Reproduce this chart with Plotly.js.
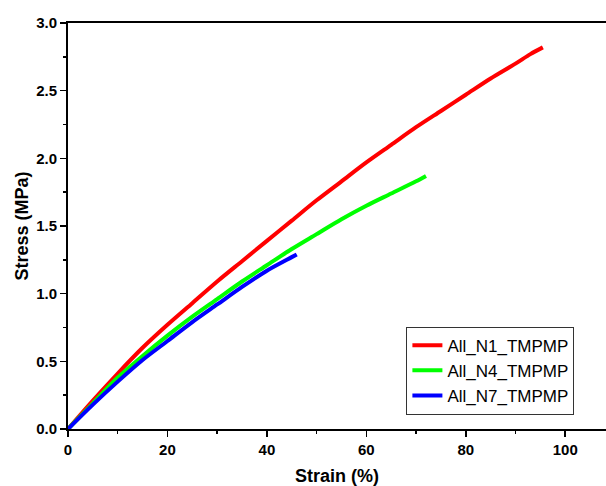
<!DOCTYPE html>
<html>
<head>
<meta charset="utf-8">
<script src="https://cdn.plot.ly/plotly-3.0.1.min.js"></script>
<style>html,body{margin:0;padding:0;background:#fff;}#chart{width:606px;height:486px;}</style>
</head>
<body>
<div id="chart"></div>
<script>
const seriesNames = ["All_N1_TMPMP", "All_N4_TMPMP", "All_N7_TMPMP"];
const seriesColors = ["#ff0000", "#00ff00", "#0000ff"];

const strainN1 = [0, 5, 10, 15, 20, 25, 30, 35, 40, 45, 50, 55, 60, 65, 70, 75, 80, 85, 90, 93, 95.5];
const stressN1 = [0, 0.21, 0.41, 0.60, 0.77, 0.93, 1.09, 1.24, 1.39, 1.54, 1.69, 1.83, 1.97, 2.10, 2.23, 2.35, 2.47, 2.59, 2.70, 2.77, 2.82];

const strainN4 = [0, 5, 10, 15, 20, 25, 30, 35, 40, 45, 50, 55, 60, 65, 70, 72];
const stressN4 = [0, 0.19, 0.38, 0.54, 0.69, 0.83, 0.96, 1.09, 1.21, 1.33, 1.44, 1.55, 1.65, 1.74, 1.83, 1.87];

const strainN7 = [0, 5, 10, 15, 20, 25, 30, 35, 40, 45, 46];
const stressN7 = [0, 0.18, 0.35, 0.51, 0.65, 0.79, 0.92, 1.05, 1.17, 1.27, 1.29];

const xTickVals = [0, 20, 40, 60, 80, 100];
const yTickVals = [0.0, 0.5, 1.0, 1.5, 2.0, 2.5, 3.0];
const yTickText = ["0.0", "0.5", "1.0", "1.5", "2.0", "2.5", "3.0"];

const xs = [strainN1, strainN4, strainN7];
const ys = [stressN1, stressN4, stressN7];

const traces = seriesNames.map((n, i) => ({
  x: xs[i], y: ys[i], name: n, type: 'scatter', mode: 'lines',
  line: {color: seriesColors[i], width: 4, shape: 'spline', smoothing: 0.8}
}));

const fam = 'Liberation Sans, Arial, sans-serif';
const tickFont = {family: fam, size: 15, color: '#000', weight: 'bold'};
const layout = {
  width: 606, height: 486,
  margin: {l: 68, r: 0, t: 23, b: 57},
  paper_bgcolor: '#ffffff', plot_bgcolor: '#ffffff',
  showlegend: true,
  legend: {
    x: 0.629, y: 0.252, xanchor: 'left', yanchor: 'top',
    bordercolor: '#333', borderwidth: 1, bgcolor: '#ffffff',
    font: {family: fam, size: 17, color: '#000'},
    tracegroupgap: 0
  },
  xaxis: {
    range: [0, 108.2], tickvals: xTickVals, ticktext: xTickVals.map(String),
    ticks: 'outside', ticklen: 6, tickwidth: 1.5, tickcolor: '#000',
    showline: true, linecolor: '#000', linewidth: 2, mirror: true,
    showgrid: false, zeroline: false, tickfont: tickFont,
    minor: {dtick: 10, tick0: 0, ticks: 'outside', ticklen: 3, tickwidth: 1.5, tickcolor: '#000', showgrid: false},
    title: {text: 'Strain (%)', font: {family: fam, size: 18, color: '#000', weight: 'bold'}, standoff: 13}
  },
  yaxis: {
    range: [0, 3.0], tickvals: yTickVals, ticktext: yTickText,
    ticks: 'outside', ticklen: 6, tickwidth: 1.5, tickcolor: '#000',
    showline: true, linecolor: '#000', linewidth: 2, mirror: false,
    showgrid: false, zeroline: false, tickfont: tickFont,
    minor: {dtick: 0.25, tick0: 0, ticks: 'outside', ticklen: 3, tickwidth: 1.5, tickcolor: '#000', showgrid: false},
    title: {text: 'Stress (MPa)', font: {family: fam, size: 18, color: '#000', weight: 'bold'}, standoff: 3}
  }
};

Plotly.newPlot('chart', traces, layout, {displayModeBar: false, staticPlot: true});
</script>
</body>
</html>
